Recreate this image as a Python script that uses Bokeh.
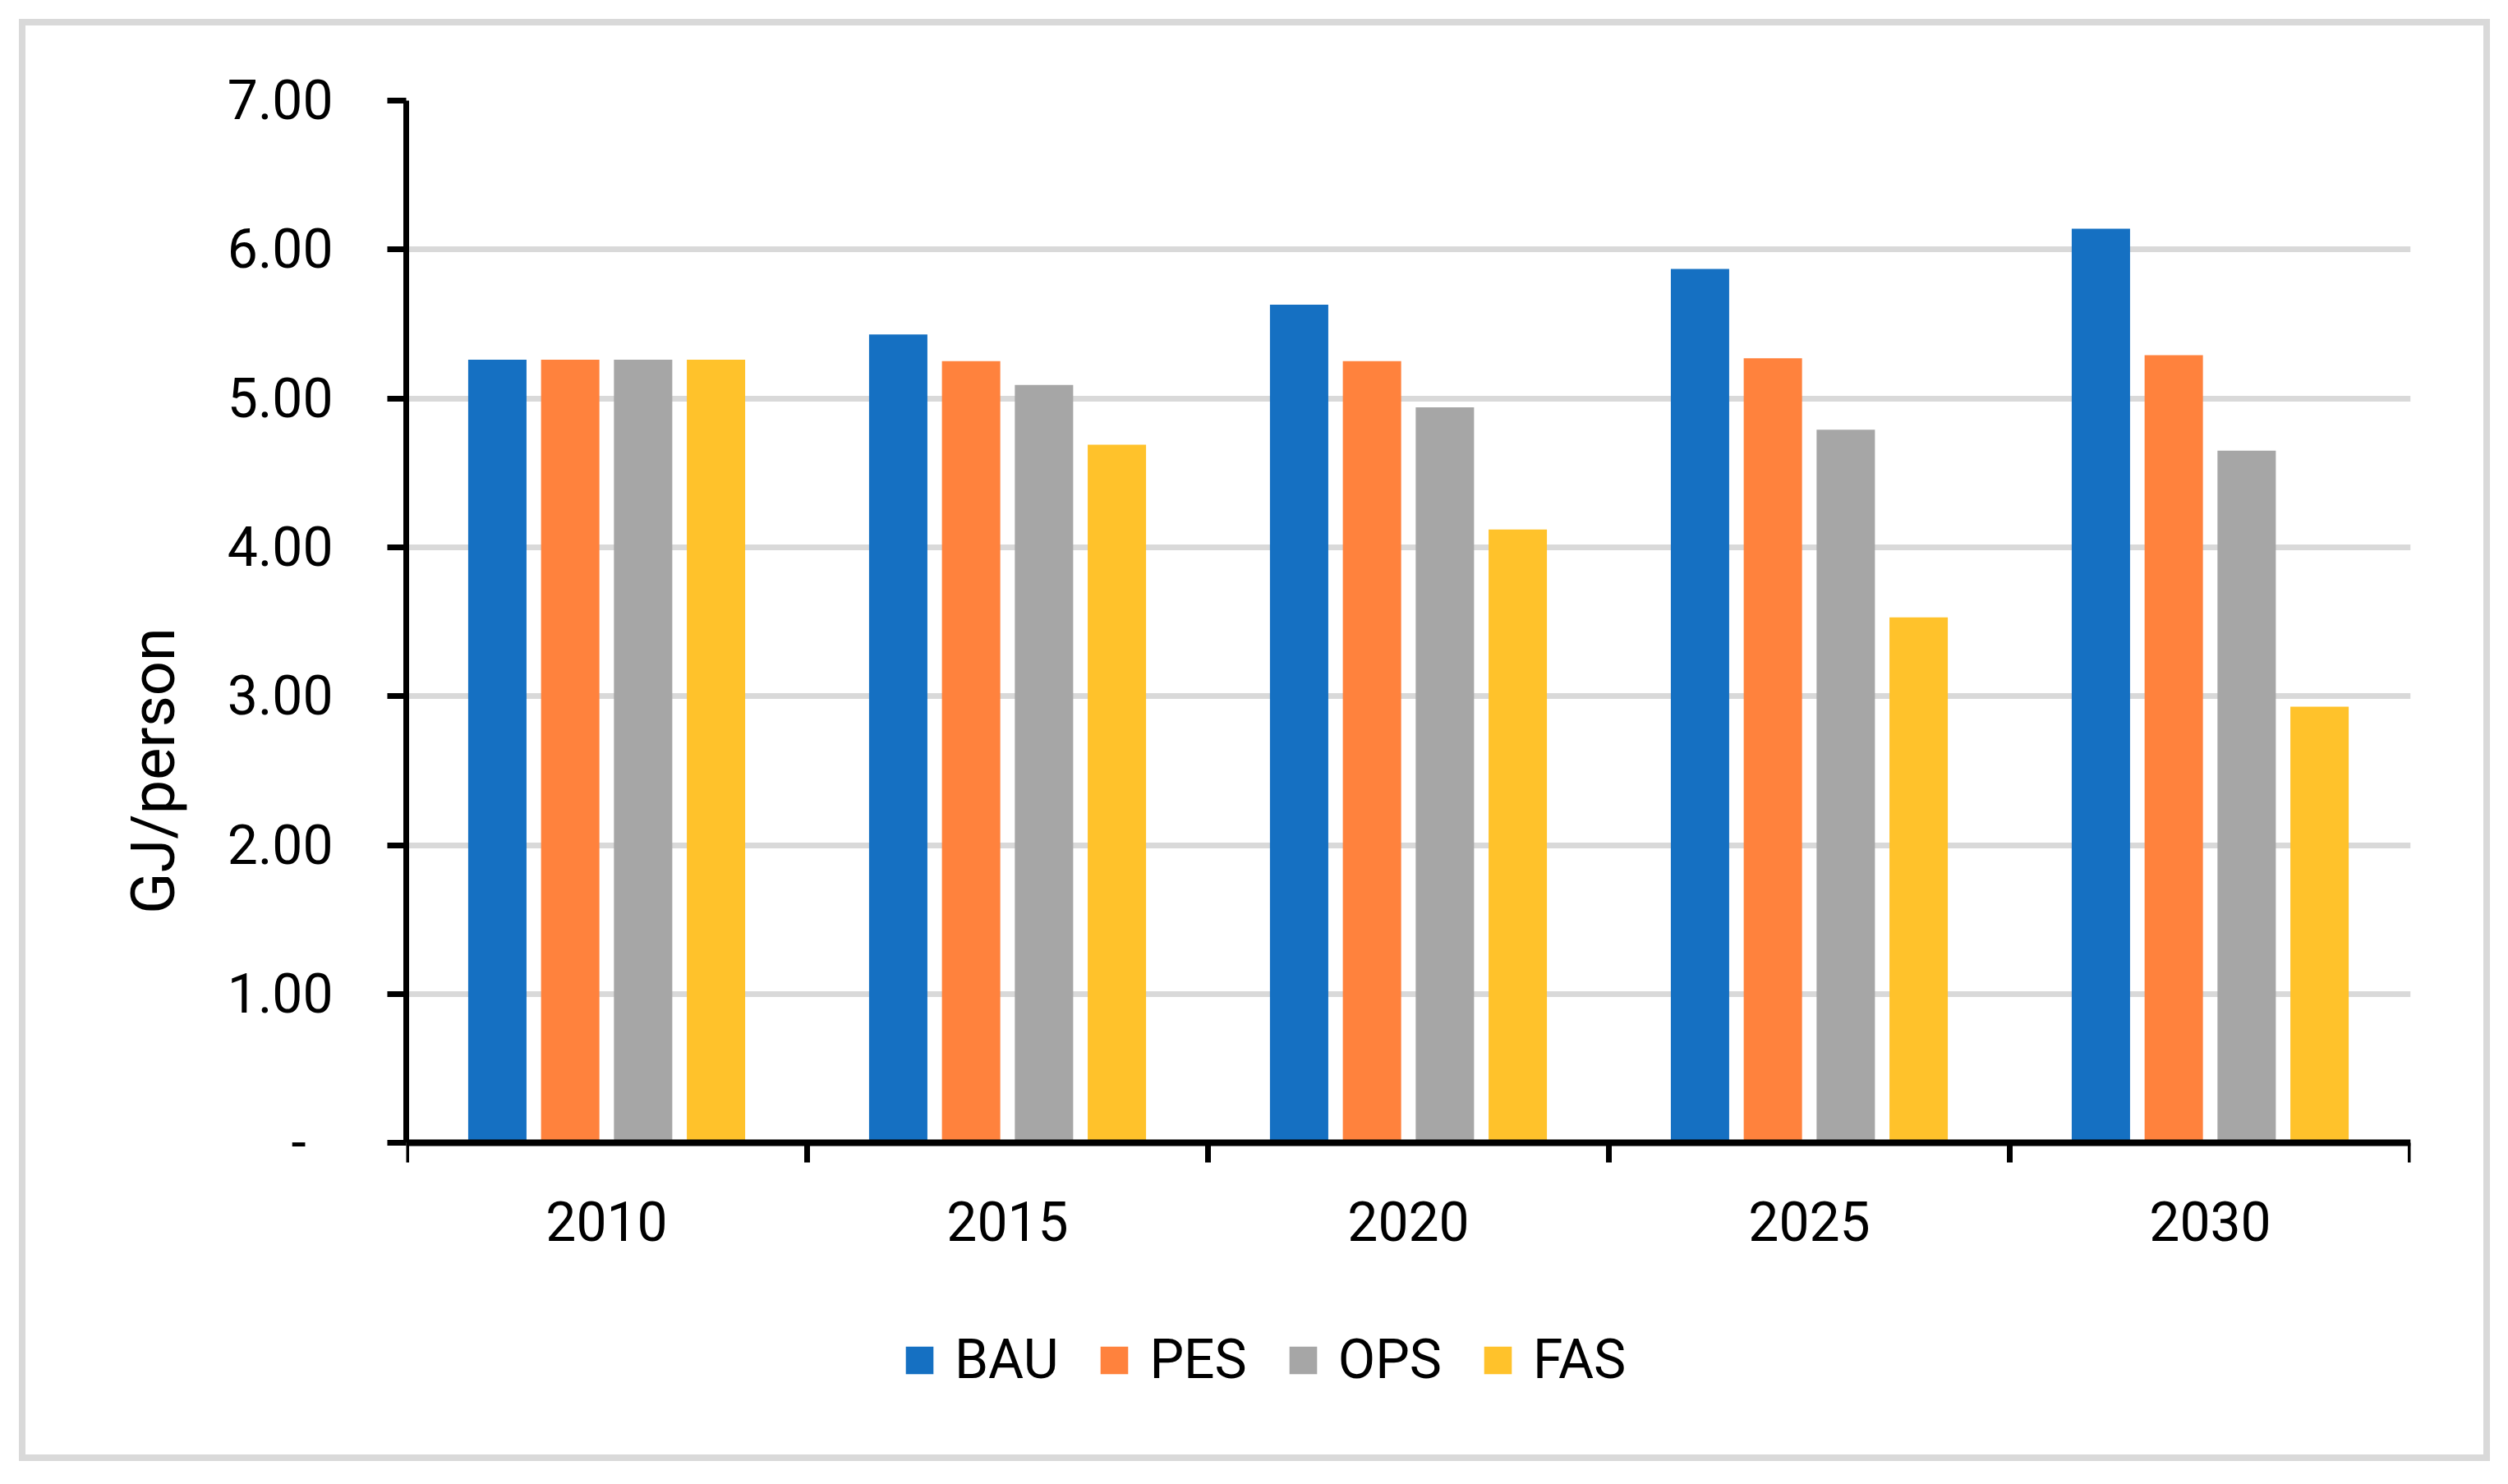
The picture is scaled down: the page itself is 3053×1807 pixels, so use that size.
from bokeh.plotting import figure
from bokeh.models import Range1d, FixedTicker, Legend, LegendItem, ColumnDataSource
from bokeh.transform import dodge
from bokeh.embed import file_html
from bokeh.resources import INLINE

years = ["2010", "2015", "2020", "2025", "2030"]
series = ["BAU", "PES", "OPS", "FAS"]
bau = [5.26, 5.43, 5.63, 5.87, 6.14]
pes = [5.26, 5.25, 5.25, 5.27, 5.29]
ops = [5.26, 5.09, 4.94, 4.79, 4.65]
fas = [5.26, 4.69, 4.12, 3.53, 2.93]
y_ticks = [0, 1, 2, 3, 4, 5, 6, 7]
y_tick_labels = ["-\u00a0\u00a0", "1.00", "2.00", "3.00", "4.00", "5.00", "6.00", "7.00"]
y_label = "GJ/person"
colors = ["#1570C2", "#FF823D", "#A6A6A6", "#FFC22B"]

FONT = "Roboto"

src = ColumnDataSource(data=dict(
    xc=[i + 0.5 for i in range(len(years))],
    BAU=bau, PES=pes, OPS=ops, FAS=fas,
))

# frame extends below zero so the legend can sit inside it; x axis is pinned at y=0
p = figure(width=2992, height=1740,
           x_range=Range1d(0, len(years)), y_range=Range1d(-2.0, 7),
           output_backend="svg", toolbar_location=None,
           min_border_left=463, min_border_right=89,
           min_border_top=91, min_border_bottom=17)
p.background_fill_color = "white"
p.border_fill_color = "white"
p.outline_line_color = None
p.margin = (31, 0, 0, 31)
p.styles = {"outline": "8px solid #D9D9D9"}

pitch = 0.1818
bw = 0.1455
renderers = []
for k, (name, col) in enumerate(zip(series, colors)):
    off = (k - 1.5) * pitch
    r = p.vbar(x=dodge("xc", off), top=name, bottom=0, width=bw, source=src,
               fill_color=col, line_color=None)
    renderers.append(r)

# x axis: labels at centers, tick marks at category boundaries
xa = p.xaxis[0]
xa.fixed_location = 0
xa.ticker = FixedTicker(ticks=[i + 0.5 for i in range(len(years))],
                        minor_ticks=list(range(len(years) + 1)))
xa.major_label_overrides = {i + 0.5: y for i, y in enumerate(years)}
xa.major_tick_line_color = None
xa.major_tick_out = 0
xa.major_tick_in = 0
xa.minor_tick_line_color = "black"
xa.minor_tick_line_width = 7
xa.minor_tick_out = 24
xa.minor_tick_in = 0
xa.axis_line_color = "black"
xa.axis_line_width = 8
xa.major_label_text_font = FONT
xa.major_label_text_font_size = "66px"
xa.major_label_text_color = "black"
xa.major_label_standoff = 47

ya = p.yaxis[0]
ya.bounds = (0, 7)
ya.ticker = FixedTicker(ticks=y_ticks)
ya.major_label_overrides = {t: l for t, l in zip(y_ticks, y_tick_labels)}
ya.major_tick_line_color = "black"
ya.major_tick_line_width = 7
ya.major_tick_out = 23
ya.major_tick_in = 0
ya.minor_tick_line_color = None
ya.axis_line_color = "black"
ya.axis_line_width = 7
ya.major_label_text_font = FONT
ya.major_label_text_font_size = "66px"
ya.major_label_text_color = "black"
ya.major_label_standoff = 66
ya.axis_label = y_label
ya.axis_label_text_font = FONT
ya.axis_label_text_font_size = "74px"
ya.axis_label_text_font_style = "normal"
ya.axis_label_text_color = "black"
ya.axis_label_standoff = 44

p.xgrid.visible = False
p.ygrid.grid_line_color = "#D9D9D9"
p.ygrid.grid_line_width = 7

legend = Legend(items=[LegendItem(label=s, renderers=[r]) for s, r in zip(series, renderers)],
                orientation="horizontal", location=(604, 60),
                glyph_width=42, glyph_height=42, label_standoff=22, spacing=47,
                padding=0, margin=0, border_line_color=None,
                background_fill_alpha=0,
                label_text_font=FONT, label_text_font_size="66px",
                label_text_color="black")
p.add_layout(legend, "center")

open("out.html", "w").write(file_html(p, INLINE))
